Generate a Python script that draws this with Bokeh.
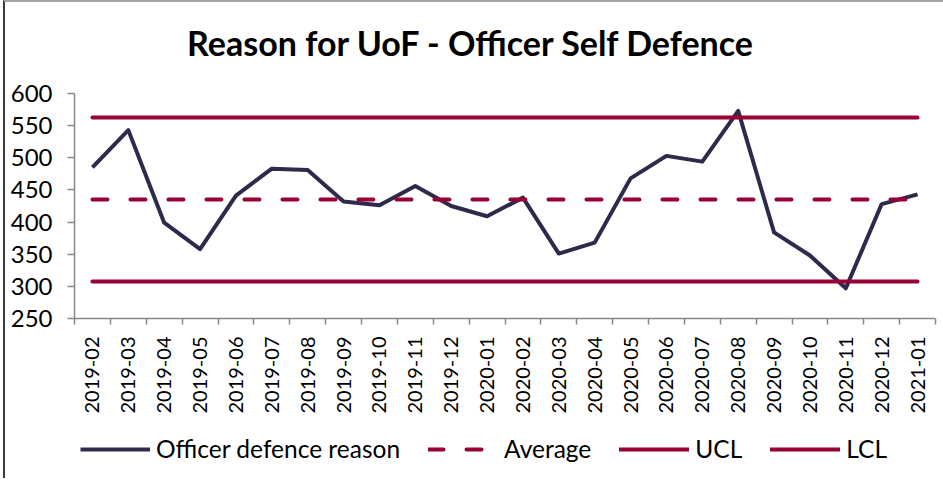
import numpy as np
from bokeh.plotting import figure
from bokeh.layouts import column
from bokeh.models import Range1d, FixedTicker, Legend, LegendItem, Label
from bokeh.embed import file_html
from bokeh.resources import INLINE

# ---- data ----
months = ["2019-02", "2019-03", "2019-04", "2019-05", "2019-06", "2019-07",
          "2019-08", "2019-09", "2019-10", "2019-11", "2019-12", "2020-01",
          "2020-02", "2020-03", "2020-04", "2020-05", "2020-06", "2020-07",
          "2020-08", "2020-09", "2020-10", "2020-11", "2020-12", "2021-01"]
officer_defence = [485, 543, 399, 358, 441, 483, 481, 432, 426, 456, 425, 409,
                   438, 351, 368, 468, 503, 494, 573, 384, 348, 297, 428, 443]
average_value = 435
ucl_value = 562.5
lcl_value = 307.5
y_ticks = [250, 300, 350, 400, 450, 500, 550, 600]

title_text = "Reason for UoF - Officer Self Defence"
series_names = ["Officer defence reason", "Average", "UCL", "LCL"]

# ---- styling ----
FONT = "Lato"
NAVY = "#2F2A4B"
CRIMSON = "#990033"
AXIS_GREY = "#898989"
W = 938          # figure width (page offset 5 px by the border)
LEFT = 69        # left border of every figure -> frame starts at page x 74
RIGHT = 8
FRAME_X0, FRAME_X1 = 74, 935   # page pixels spanned by the aligned frames

x = list(range(len(months)))
avg_line = [average_value] * len(months)
ucl_line = [ucl_value] * len(months)
lcl_line = [lcl_value] * len(months)
series = [officer_defence, avg_line, ucl_line, lcl_line]

styles = [dict(line_color=NAVY, line_width=4, line_join="round"),
          dict(line_color=CRIMSON, line_width=4, line_dash="15 23", line_cap="round"),
          dict(line_color=CRIMSON, line_width=4, line_cap="round"),
          dict(line_color=CRIMSON, line_width=4, line_cap="round")]


def blank(height):
    f = figure(width=W, height=height, x_range=Range1d(FRAME_X0, FRAME_X1),
               y_range=Range1d(0, height),
               x_axis_type=None, y_axis_type=None, output_backend="svg",
               toolbar_location=None, min_border_left=LEFT,
               min_border_right=RIGHT, min_border_top=0, min_border_bottom=0)
    f.xgrid.visible = False
    f.ygrid.visible = False
    f.outline_line_color = None
    f.border_fill_color = "white"
    f.background_fill_color = "white"
    return f


# ---- title strip ----
TH = 68
pt = blank(TH)
pt.add_layout(Label(x=471, y=28, text=title_text, text_font=FONT,
                    text_font_style="bold", text_font_size="34px",
                    text_align="center", text_baseline="alphabetic",
                    text_color="black"))

# ---- main chart ----
p = figure(width=W, height=350,
           x_range=Range1d(-0.5, len(months) - 0.5),
           y_range=Range1d(y_ticks[0], y_ticks[-1]),
           output_backend="svg", toolbar_location=None,
           min_border_left=LEFT, min_border_right=RIGHT,
           min_border_top=23, min_border_bottom=102)
p.xgrid.visible = False
p.ygrid.visible = False
p.outline_line_color = None
p.background_fill_color = "white"
p.border_fill_color = "white"

xa = p.xaxis[0]
xa.ticker = FixedTicker(ticks=x, minor_ticks=[i - 0.5 for i in range(len(months) + 1)])
xa.major_label_overrides = {i: m for i, m in enumerate(months)}
xa.major_tick_line_color = None
xa.major_tick_out = 0
xa.major_tick_in = 0
xa.minor_tick_line_color = AXIS_GREY
xa.minor_tick_line_width = 1.5
xa.minor_tick_out = 6
xa.minor_tick_in = 0
xa.major_label_orientation = np.pi / 2
xa.major_label_standoff = 12
xa.major_label_text_font = FONT
xa.major_label_text_font_size = "20px"
xa.major_label_text_color = "black"
xa.axis_line_color = AXIS_GREY
xa.axis_line_width = 1.5

ya = p.yaxis[0]
ya.ticker = FixedTicker(ticks=y_ticks)
ya.major_tick_out = 7
ya.major_tick_in = 0
ya.minor_tick_line_color = None
ya.major_tick_line_color = AXIS_GREY
ya.major_tick_line_width = 1.5
ya.axis_line_color = AXIS_GREY
ya.axis_line_width = 1.5
ya.major_label_standoff = 15
ya.major_label_text_font = FONT
ya.major_label_text_font_size = "24px"
ya.major_label_text_color = "black"

for ys, st in zip(series, styles):
    p.line(x, ys, **st)

# ---- legend strip (same series, lying outside this strip's visible ranges) ----
LH = 58
pl = blank(LH)
items = []
for name, ys, st in zip(series_names, series, styles):
    r = pl.line(x, ys, **st)
    items.append(LegendItem(label=name, renderers=[r]))
legend = Legend(items=items, orientation="horizontal", location=(6, 15),
                padding=0, margin=0, spacing=28, label_standoff=6,
                glyph_width=70, glyph_height=26, label_height=26,
                label_text_font=FONT, label_text_font_size="24.5px",
                label_text_color="black",
                border_line_color=None, background_fill_alpha=0)
pl.add_layout(legend)

layout = column(pt, p, pl, spacing=0,
                styles={"border-left": "2px solid #3a3a3a",
                        "border-top": "2px solid #a6a6a6",
                        "margin-left": "3px"})
open("out.html", "w").write(file_html(layout, INLINE))
